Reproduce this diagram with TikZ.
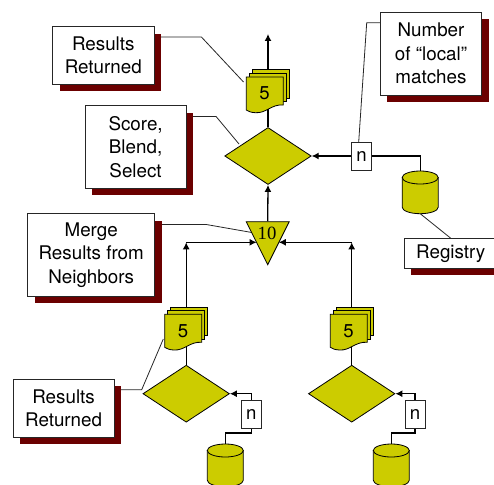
\documentclass[tikz,border=0pt]{standalone}
\usepackage{fontspec}
\setmainfont{TeX Gyre Heros}
\newfontfamily\numfont{Liberation Serif}
\usetikzlibrary{shapes.geometric, shadows, backgrounds, arrows.meta}
\definecolor{olive}{HTML}{CCCC00}
\definecolor{maroon}{HTML}{6B0000}
\tikzset{
  notebox/.style = {draw = black!85, line width = .9pt, fill = white, align = center, inner sep = 0,
    font = \fontsize{18.8}{23.3}\selectfont,
    drop shadow = {shadow xshift = 7pt, shadow yshift = -7pt, fill = maroon, opacity = 1}},
  choice/.style = {diamond, draw = black, line width = .8pt, fill = olive, inner sep = 0,
    minimum width = 86.5pt, minimum height = 57pt},
  countbox/.style = {draw = black!85, line width = .9pt, fill = white, inner sep = 0,
    minimum width = 20pt, minimum height = 28pt, font = \fontsize{18.6}{22}\selectfont},
  merger/.style = {isosceles triangle, isosceles triangle apex angle = 53.13, isosceles triangle stretches = false,
    shape border rotate = -90, draw = black, line width = .8pt, fill = olive, inner sep = 0, minimum height = 43pt},
  conn/.style = {line width = 1.3pt},
  tip/.style = {-{Latex[length = 7pt, width = 7pt]}},
  leader/.style = {line width = .8pt, black!85},
  sheet/.style = {draw = black, line width = .8pt, fill = olive},
  docstack/.pic = {
    \draw[sheet] (6, -7.3) rectangle (43, 21);
    \draw[sheet] (3, -3.6) rectangle (40, 24.7);
    \draw[sheet] (0, 0) -- (37, 0) -- (37, 28) .. controls (25, 27) and (20, 36.5) .. (9, 35.7)
      .. controls (5, 35.5) and (2, 34.5) .. (0, 33) -- cycle;
    \node[font = \fontsize{18.6}{22}\selectfont, inner sep = 0] (-num) at (18.3, 16.4) {5};
  },
  dbdrum/.pic = {
    \draw[sheet] (0, 6.5) -- (0, 36.2) .. controls (0, 39.8) and (8, 42.7) .. (18, 42.7)
      .. controls (28, 42.7) and (36, 39.8) .. (36, 36.2) -- (36, 6.5) -- cycle;
    \draw[sheet] (18, 6.5) ellipse (18 and 6.5);
    \coordinate (-top) at (18, 0);
    \coordinate (-bottom) at (18, 42.7);
  }
}
\begin{document}
\begin{tikzpicture}[x = 1pt, y = -1pt]
  \useasboundingbox (0, 0) rectangle (494, 484);
  \clip (0, 0) rectangle (494, 484);

  \node[notebox, minimum width = 101.3pt, minimum height = 57.6pt] (resultstop) at (103.3, 55.5) {Results\\Returned};
  \node[notebox, minimum width = 100.7pt, minimum height = 82.6pt] (score) at (135.6, 147) {Score,\\Blend,\\Select};
  \node[notebox, minimum width = 127pt, minimum height = 82.6pt] (merge) at (91.2, 255) {Merge\\Results from\\Neighbors};
  \node[notebox, minimum width = 101.4pt, minimum height = 83pt] (number) at (431, 53.5) {Number\\of “local”\\matches};
  \node[notebox, minimum width = 93.4pt, minimum height = 29.3pt] (registry) at (450.7, 253.3) {Registry};
  \node[notebox, minimum width = 101.3pt, minimum height = 57.7pt] (resultsleft) at (63.6, 408.2) {Results\\Returned};

  \node[choice] (topchoice) at (268, 156) {};
  \node[choice] (leftchoice) at (186.2, 393.7) {};
  \node[choice] (rightchoice) at (351.7, 393.7) {};

  \node[merger] (mergetri) at (267.7, 235) {};
  \node[font = \numfont\fontsize{18.7}{20}\selectfont, inner sep = 0] (mergenum) at (267, 233.5) {10};

  \node[countbox] (ntop) at (361.5, 156) {n};
  \node[countbox] (nleft) at (251.3, 414.5) {n};
  \node[countbox] (nright) at (415, 414.5) {n};

  \pic (dbtop) at (402.2, 171) {dbdrum};
  \pic (dbleft) at (207.3, 444) {dbdrum};
  \pic (dbright) at (373.3, 444) {dbdrum};

  \pic (doctop) at (246.3, 77) {docstack};
  \pic (docleft) at (164.7, 314.3) {docstack};
  \pic (docright) at (330.3, 314.3) {docstack};

  \coordinate (outtip) at (268, 34);
  \coordinate (bendA) at (201.4, 37);
  \coordinate (tipA) at (243.5, 82);
  \coordinate (bendB) at (216, 116.4);
  \coordinate (tipB) at (239, 144);
  \coordinate (bendC) at (205.7, 224.4);
  \coordinate (tipC) at (253, 232.7);
  \coordinate (bendD) at (366.7, 22.7);
  \coordinate (tipD) at (358.7, 142);
  \coordinate (bendE) at (141.7, 389.7);
  \coordinate (tipE) at (163.3, 339);
  \coordinate (joinleft) at (186.2, 242.3);
  \coordinate (joinright) at (351.7, 242.3);

  \begin{pgfonlayer}{background}
    \draw[tip, conn] (topchoice.north) -- (outtip);
    \draw[tip, conn] (mergetri.north) -- (topchoice.south);
    \draw[tip, conn] (ntop.west) -- (topchoice.east);
    \draw[conn] (ntop.east) -| (dbtop-top);
    \draw[tip, conn] (leftchoice.north) -- (joinleft);
    \draw[tip, conn] (rightchoice.north) -- (joinright);
    \draw[tip, conn] (joinleft) -- (joinleft -| mergetri.right side);
    \draw[tip, conn] (joinright) -- (joinright -| mergetri.left side);
    \draw[tip, conn] (nleft.north) |- (leftchoice.east);
    \draw[tip, conn] (nright.north) |- (rightchoice.east);
    \draw[conn] (nleft.south) -- ++(0, 4) -| (dbleft-top);
    \draw[conn] (nright.south) -- ++(0, 4) -| (dbright-top);
    \draw[leader] (resultstop.east |- bendA) -- (bendA) -- (tipA);
    \draw[leader] (score.east |- bendB) -- (bendB) -- (tipB);
    \draw[leader] (merge.east |- bendC) -- (bendC) -- (tipC);
    \draw[leader] (number.west |- bendD) -- (bendD) -- (tipD);
    \draw[leader] (dbtop-bottom) -- (registry.north);
    \draw[leader] (resultsleft.east |- bendE) -- (bendE) -- (tipE);
  \end{pgfonlayer}
\end{tikzpicture}
\end{document}
